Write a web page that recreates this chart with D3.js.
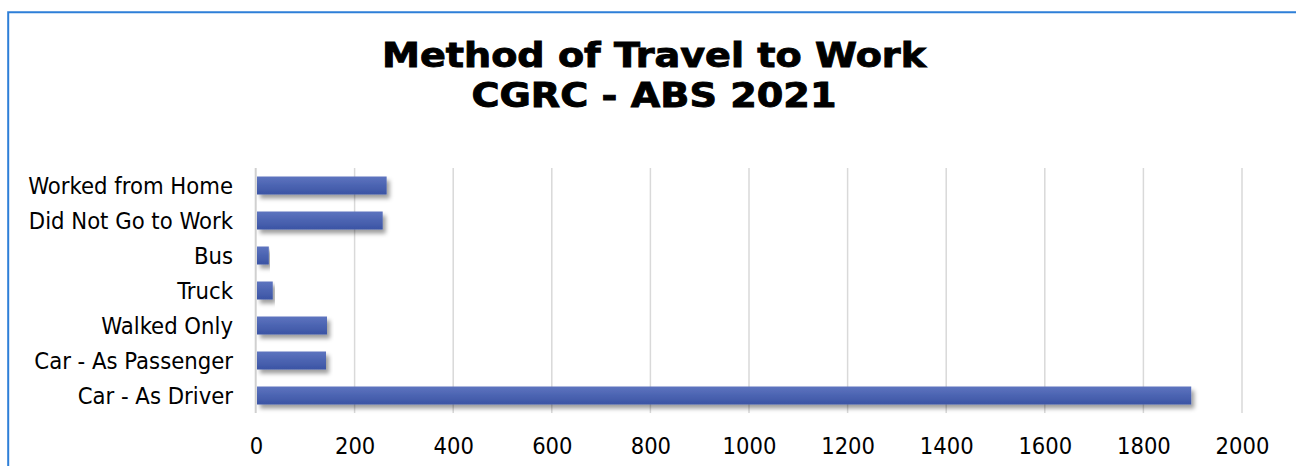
<!DOCTYPE html>
<html>
<head>
<meta charset="utf-8">
<script src="https://cdn.jsdelivr.net/npm/d3@7"></script>
<style>
  html, body { margin: 0; padding: 0; background: #fff; }
  svg { display: block; }
</style>
</head>
<body>
<svg id="chart" width="1296" height="466"></svg>
<script>
// Method of travel to work, CGRC (ABS Census 2021)
const categories = [
  "Worked from Home",
  "Did Not Go to Work",
  "Bus",
  "Truck",
  "Walked Only",
  "Car - As Passenger",
  "Car - As Driver"
];
const persons = [265, 257, 26, 34, 144, 142, 1897];
const xTicks = [0, 200, 400, 600, 800, 1000, 1200, 1400, 1600, 1800, 2000];
const titleLines = ["Method of Travel to Work", "CGRC - ABS 2021"];

const rows = categories.map((c, i) => ({ category: c, value: persons[i] }));

const svg = d3.select("#chart");
const W = 1296, H = 466;
const margin = { left: 256, right: 54, top: 168, bottom: 53 };

const x = d3.scaleLinear().domain([0, 2000]).range([margin.left, W - margin.right]);
const y = d3.scaleBand().domain(categories).range([margin.top, H - margin.bottom]).paddingInner(0.486).paddingOuter(0.243);

const defs = svg.append("defs");
const grad = defs.append("linearGradient").attr("id", "barFill")
  .attr("x1", 0).attr("y1", 0).attr("x2", 0).attr("y2", 1);
grad.append("stop").attr("offset", "0%").attr("stop-color", "#5d74bf");
grad.append("stop").attr("offset", "100%").attr("stop-color", "#3b54a4");

const shadow = defs.append("filter").attr("id", "barShadow")
  .attr("x", "-5%").attr("y", "-40%").attr("width", "115%").attr("height", "200%");
shadow.append("feDropShadow").attr("dx", 3).attr("dy", 4).attr("stdDeviation", 2.2)
  .attr("flood-color", "#000").attr("flood-opacity", 0.38);

// chart frame
svg.append("path")
  .attr("d", `M8.2,${H + 2} V12.2 H${W + 2}`)
  .attr("fill", "none").attr("stroke", "#2e7fd8").attr("stroke-width", 2);

// title
const title = svg.append("text")
  .attr("text-anchor", "middle")
  .attr("font-family", "'DejaVu Sans', sans-serif")
  .attr("font-weight", "bold")
  .attr("font-size", 33)
  .attr("fill", "#000")
  .attr("stroke", "#000")
  .attr("stroke-width", 0.9);
const titleWidths = [544, 365];
titleLines.forEach((t, i) => {
  title.append("tspan").attr("x", 654).attr("y", 67 + i * 40)
    .attr("textLength", titleWidths[i]).attr("lengthAdjust", "spacingAndGlyphs")
    .text(t);
});

// vertical gridlines
const gridY0 = margin.top, gridY1 = H - margin.bottom;
svg.append("g").selectAll("line").data(xTicks.slice(1)).join("line")
  .attr("x1", d => x(d)).attr("x2", d => x(d))
  .attr("y1", gridY0).attr("y2", gridY1)
  .attr("stroke", "#d9d9d9").attr("stroke-width", 1.5);

// value axis (bottom) labels
const xAxis = d3.axisBottom(x).tickValues(xTicks).tickSize(0).tickPadding(0).tickFormat(d3.format("d"));
const gx = svg.append("g").attr("transform", `translate(0,${H - 12})`).call(xAxis);
gx.select(".domain").remove();
gx.selectAll("text")
  .attr("dy", 0)
  .attr("font-family", "'DejaVu Sans Condensed', 'DejaVu Sans', sans-serif")
  .attr("font-size", 23.5)
  .attr("fill", "#000");

// category axis line
svg.append("line")
  .attr("x1", x(0) - 0.3).attr("x2", x(0) - 0.3)
  .attr("y1", gridY0).attr("y2", gridY1)
  .attr("stroke", "#d0d0d0").attr("stroke-width", 2);

// bars
svg.append("g").selectAll("rect").data(rows).join("rect")
  .attr("x", x(0) + 1)
  .attr("y", d => y(d.category))
  .attr("width", d => x(d.value) - x(0) - 1)
  .attr("height", y.bandwidth())
  .attr("fill", "url(#barFill)")
  .attr("filter", "url(#barShadow)");

// category labels
const yAxis = d3.axisLeft(y).tickSize(0).tickPadding(0);
const gy = svg.append("g").attr("transform", `translate(233,0)`).call(yAxis);
gy.select(".domain").remove();
gy.selectAll("text")
  .attr("dy", "0.36em")
  .attr("font-family", "'DejaVu Sans Condensed', 'DejaVu Sans', sans-serif")
  .attr("font-size", 23.6)
  .attr("fill", "#000");
</script>
</body>
</html>
